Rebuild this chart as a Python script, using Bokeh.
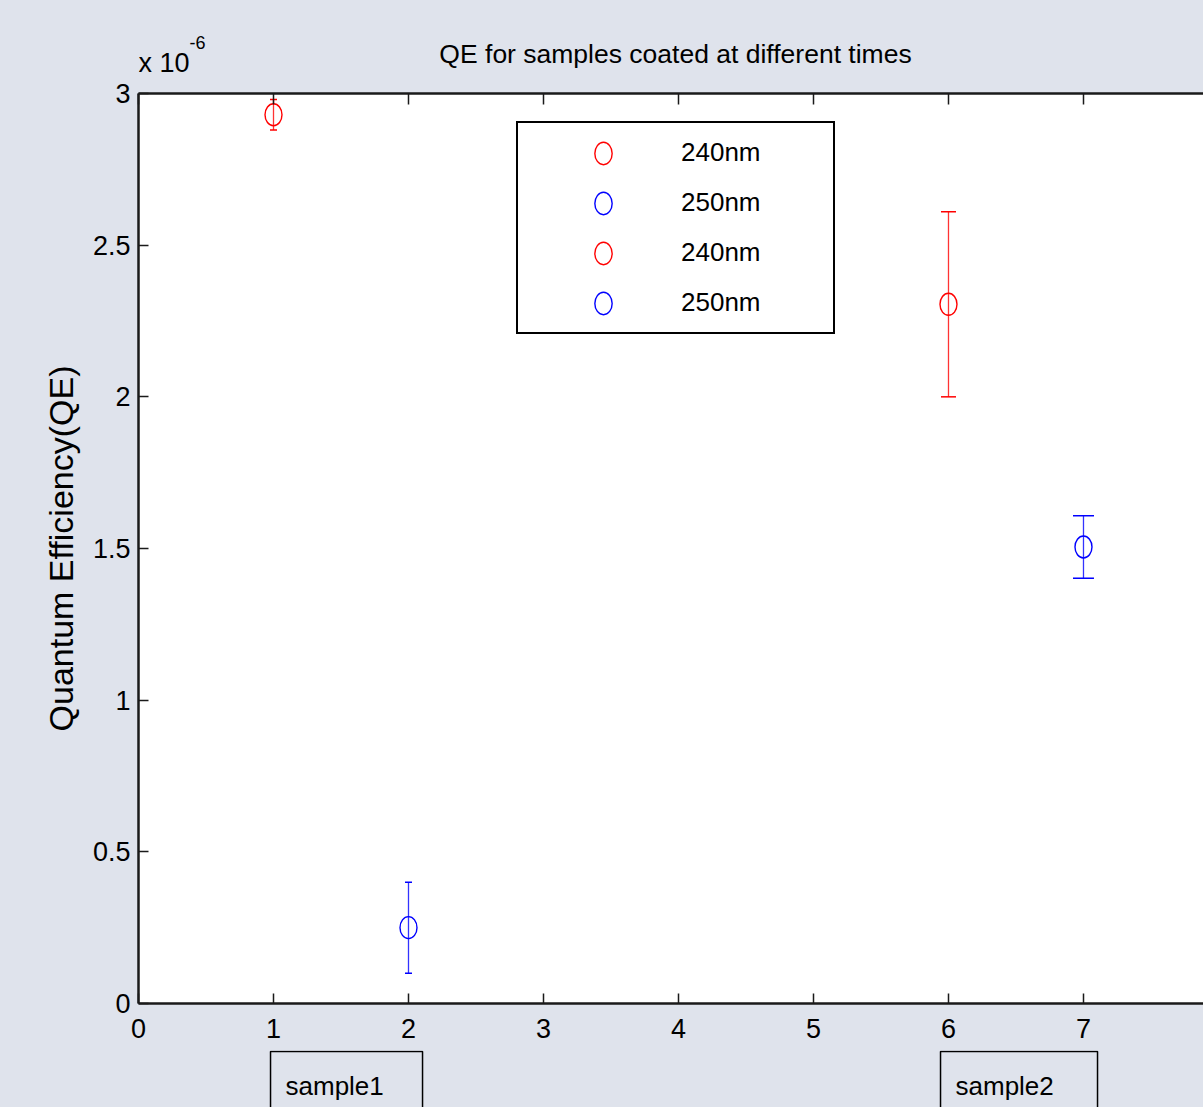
from bokeh.plotting import figure
from bokeh.models import (ColumnDataSource, Whisker, TeeHead, Legend, LegendItem,
                          LinearAxis, Label, FixedTicker, Range1d)
from bokeh.layouts import column
from bokeh.embed import file_html
from bokeh.resources import INLINE

# ---------------- data (QE in units of 1e-6) ----------------
series_labels = ["240nm", "250nm", "240nm", "250nm"]
series_colors = ["red", "blue", "red", "blue"]
x_pos = [1, 2, 6, 7]
qe_values = [2.93, 0.25, 2.305, 1.505]
qe_errors = [0.05, 0.15, 0.305, 0.103]
x_ticks = [0, 1, 2, 3, 4, 5, 6, 7]
y_ticks = [0, 0.5, 1, 1.5, 2, 2.5, 3]
y_tick_labels = ["0", "0.5", "1", "1.5", "2", "2.5", "3"]
sample_labels = ["sample1", "sample2"]
title_text = "QE for samples coated at different times"
y_label_text = "Quantum Efficiency(QE)"

# ---------------- style / layout ----------------
FONT = "Liberation Sans"
BG = "#dfe3ec"
AX = "#1a1a1a"
cap_sizes = [7, 7, 15, 21]
sample_box_left = [0.978, 5.941]
sample_box_right = [2.104, 7.104]
sample_text_x = [1.089, 6.052]
W = 1203
LEFT = 138
X_RANGE = Range1d(0, 7.889)
TOP_H, MAIN_H, BOT_H = 78, 972, 57


def blank_fig(h):
    f = figure(width=W, height=h, output_backend="svg", toolbar_location=None,
               x_range=X_RANGE, y_range=Range1d(0, h), title=None,
               x_axis_location=None, y_axis_location=None,
               min_border_left=LEFT, min_border_right=0, min_border_top=0,
               min_border_bottom=0)
    f.border_fill_color = BG
    f.border_fill_alpha = 0.0
    f.background_fill_color = BG
    f.background_fill_alpha = 0.0
    f.outline_line_color = None
    f.xgrid.visible = False
    f.ygrid.visible = False
    return f


# ---------------- top band: title + exponent ----------------
top = blank_fig(TOP_H)
top.add_layout(Label(x=3.978, y=24.5, text=title_text, text_align="center",
                     text_baseline="middle", text_font=FONT, text_font_size="26.5px",
                     text_color="black"))
top.add_layout(Label(x=0.0, y=15.4, text="x 10", text_align="left",
                     text_baseline="middle", text_font=FONT, text_font_size="27px",
                     text_color="black"))
top.add_layout(Label(x=0.378, y=36, text="-6", text_align="left",
                     text_baseline="middle", text_font=FONT, text_font_size="18px",
                     text_color="black"))

# ---------------- main plot ----------------
p = figure(width=W, height=MAIN_H, output_backend="svg", toolbar_location=None,
           x_range=X_RANGE, y_range=Range1d(0, 3), title=None,
           min_border_left=LEFT, min_border_right=0, min_border_top=15,
           min_border_bottom=47)
p.border_fill_color = BG
p.background_fill_color = "white"
p.outline_line_color = None
p.xgrid.visible = False
p.ygrid.visible = False

for ax in (p.xaxis[0], p.yaxis[0]):
    ax.major_tick_in = 10
    ax.major_tick_out = 0
    ax.minor_tick_line_color = None
    ax.axis_line_width = 2.5
    ax.axis_line_color = AX
    ax.major_tick_line_color = AX
    ax.major_tick_line_width = 1.5
    ax.major_label_text_font = FONT
    ax.major_label_text_font_size = "27px"
    ax.major_label_text_color = "black"

p.xaxis.ticker = FixedTicker(ticks=x_ticks)
p.xaxis.major_label_standoff = 15
p.yaxis.ticker = FixedTicker(ticks=y_ticks)
p.yaxis.major_label_overrides = dict(zip(y_ticks, y_tick_labels))
p.yaxis.major_label_standoff = 8
p.yaxis.axis_label = y_label_text
p.yaxis.axis_label_text_font = FONT
p.yaxis.axis_label_text_font_size = "34px"
p.yaxis.axis_label_text_font_style = "normal"
p.yaxis.axis_label_text_color = "black"
p.yaxis.axis_label_standoff = 10

top_axis = LinearAxis(ticker=FixedTicker(ticks=x_ticks),
                      major_label_overrides={t: "" for t in x_ticks},
                      major_label_standoff=0, major_tick_in=11, major_tick_out=0,
                      minor_tick_line_color=None, axis_line_width=2.5, axis_line_color=AX,
                      major_tick_line_color=AX, major_tick_line_width=1.5)
p.add_layout(top_axis, "above")

items = []
for lab, col, xv, yv, ev, cap in zip(series_labels, series_colors, x_pos, qe_values,
                                     qe_errors, cap_sizes):
    src = ColumnDataSource(dict(x=[xv], y=[yv], upper=[yv + ev], lower=[yv - ev]))
    w = Whisker(source=src, base="x", upper="upper", lower="lower", dimension="height",
                line_color=col, line_width=1.3, line_alpha=0.8,
                upper_head=TeeHead(size=cap, line_color=col, line_width=1.5),
                lower_head=TeeHead(size=cap, line_color=col, line_width=1.5))
    p.add_layout(w)
    r = p.ellipse(x="x", y="y", width=17, height=22, width_units="screen",
                  height_units="screen", fill_color=None, line_color=col,
                  line_width=1.4, source=src)
    items.append(LegendItem(label=lab, renderers=[r]))

legend = Legend(items=items, location=(378, 669), margin=0, padding=13, spacing=17,
                glyph_width=144, glyph_height=28, label_height=33, label_width=139,
                label_standoff=6, label_text_font=FONT, label_text_font_size="26px",
                label_text_color="black", border_line_color="black",
                border_line_alpha=1.0, border_line_width=2,
                background_fill_color="white", background_fill_alpha=1.0)
p.add_layout(legend, "center")

# ---------------- bottom band: sample boxes ----------------
bot = blank_fig(BOT_H)
bot.quad(left=sample_box_left, right=sample_box_right, top=[56, 56], bottom=[-20, -20],
         fill_color=None, line_color="black", line_width=1.5)
for lab, tx in zip(sample_labels, sample_text_x):
    bot.add_layout(Label(x=tx, y=21.5, text=lab, text_align="left",
                         text_baseline="middle", text_font=FONT,
                         text_font_size="26px", text_color="black"))

layout = column(top, p, bot, spacing=0, styles={"background-color": BG})
open("out.html", "w").write(file_html(layout, INLINE))
